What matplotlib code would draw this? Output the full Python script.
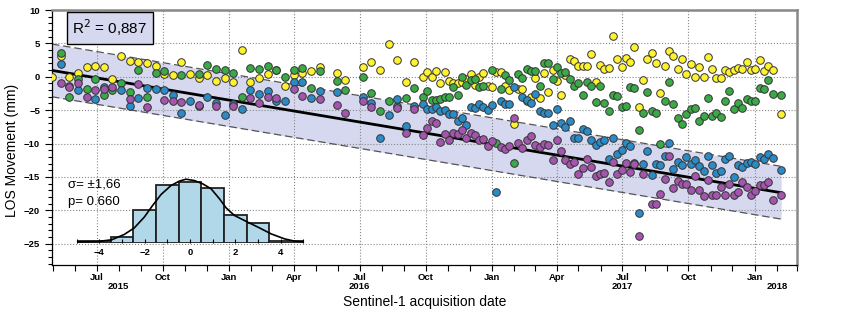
import numpy as np
import pandas as pd
import matplotlib
matplotlib.use('Agg')
import matplotlib.pyplot as plt
import matplotlib.dates as mdates
from matplotlib.ticker import MultipleLocator

plt.rcParams['font.family'] = ['Liberation Sans', 'DejaVu Sans']

# first acquisition (day 0)
t0 = pd.Timestamp('2015-04-30')

# ---- LOS time series (day offset from t0, mm) ----
yellow_days = [0, 12, 24, 36, 48, 60, 72, 84, 96, 108, 120, 132, 144, 156, 168, 180, 192, 204, 216, 228,
               240, 252, 264, 276, 288, 300, 312, 324, 336, 348, 360, 372, 396, 408, 432, 444, 456, 468, 480,
               492, 504, 516, 522, 528, 534, 540, 546, 552, 558, 564, 570, 576, 582, 588, 594, 600, 606, 612,
               618, 624, 630, 636, 642, 648, 654, 660, 666, 672, 678, 684, 690, 696, 702, 708, 714, 720, 726,
               732, 738, 744, 750, 756, 762, 768, 774, 780, 786, 792, 798, 804, 810, 816, 822, 828, 834, 840,
               846, 852, 858, 864, 870, 876, 882, 888, 894, 900, 906, 912, 918, 924, 930, 936, 942, 948, 954,
               960, 966, 972, 978, 984, 990, 996, 1002, 1014]
yellow_mm = [0.0, 3.07, 0.0, 0.57, 1.4, 1.57, 1.4, -0.27, 3.07, 2.37, 2.28, 2.0, 1.57, 0.48, 0.27, 2.2, 0.37,
             -0.17, 0.27, -0.62, -0.12, -0.72, 3.97, -0.72, -0.22, 0.48, 0.97, -1.42, 0.27, 0.6, 0.9, 1.5, 0.6,
             -0.5, 1.4, 2.25, 1.0, 4.85, 2.5, -0.75, 2.2, 0.0, 0.65, -0.1, 0.85, -1.0, 0.65, -0.6, -0.9, -0.9,
             -0.75, -0.4, 0.35, -1.25, -0.1, 0.6, -1.4, -1.6, 0.75, 0.75, -1.4, -2.0, -7.15, -1.9, -1.85, -3.6,
             -3.1, -0.25, -3.25, 0.6, -2.25, 1.0, -0.65, -2.8, 0.25, 2.6, 2.4, 1.6, 1.6, 1.6, 3.4, -0.75, 1.75,
             1.1, 1.35, 6.15, 2.6, 1.5, 2.85, 2.15, 4.4, -4.5, -0.5, 2.6, 3.6, 2.1, -2.5, 1.6, 3.9, 3.1, 1.1,
             2.7, 0.35, 1.9, 0.0, 1.4, -0.1, 3.0, 1.15, -0.15, -0.15, 1.0, 0.75, 1.0, 1.25, 1.1, 2.15, 1.0,
             1.1, 2.5, 0.85, 1.6, 1.0, -5.6]

green_days = [12, 24, 36, 48, 60, 72, 84, 96, 108, 120, 132, 144, 156, 180, 204, 216, 228, 240, 252, 264, 276,
              288, 300, 312, 324, 336, 348, 360, 372, 396, 408, 432, 444, 456, 468, 480, 492, 504, 516, 522,
              528, 534, 540, 546, 552, 558, 564, 570, 576, 582, 588, 594, 600, 612, 618, 624, 630, 636, 642,
              648, 654, 660, 666, 672, 678, 684, 690, 696, 702, 708, 714, 720, 726, 732, 738, 744, 750, 756,
              762, 768, 774, 780, 786, 792, 798, 804, 810, 816, 822, 828, 834, 840, 846, 852, 858, 864, 870,
              876, 882, 888, 894, 900, 906, 912, 918, 924, 930, 936, 942, 948, 954, 960, 966, 972, 978, 984,
              990, 996, 1002, 1014]
green_mm = [3.6, -3.0, -0.4, -1.87, -0.3, -2.7, -2.0, -0.93, -2.27, 1.0, -3.03, 0.57, 0.87, 0.23, 0.37, 1.77,
            1.23, 0.97, 0.6, -3.03, 1.33, 1.23, 1.57, 1.07, -0.03, 1.07, 1.25, -1.65, 0.9, -0.6, -2.0, -0.1,
            -2.5, -5.15, -3.6, -4.35, -3.25, -1.75, -3.0, -2.1, -3.5, -3.5, -3.35, -3.1, -3.0, -1.5, -2.8,
            -0.1, -1.25, -0.5, -0.4, -1.6, -1.4, 1.0, -9.9, -1.85, 0.25, -0.5, -12.85, 0.35, -0.25, 1.1, 0.9,
            0.9, -1.4, 2.0, 2.0, -0.4, 1.4, 0.5, 0.75, -0.35, -1.4, -0.9, -2.75, -0.85, -1.4, -3.75, -1.4,
            -3.9, -5.1, -2.75, -2.85, -4.6, -4.4, -1.6, -1.75, -8.0, -5.5, -2.25, -5.1, -5.5, -10.1, -3.6,
            -0.75, -4.1, -6.25, -7.1, -5.6, -4.9, -4.75, -6.65, -5.9, -3.25, -5.9, -5.4, -6.0, -3.6, -2.15,
            -4.9, -3.9, -4.65, -3.4, -3.6, -3.65, -1.75, -1.85, -0.5, -2.6, -2.75]

blue_days = [12, 24, 36, 60, 72, 96, 108, 120, 132, 144, 156, 168, 180, 192, 204, 216, 228, 240, 252, 264,
             276, 288, 300, 312, 324, 336, 348, 360, 372, 396, 432, 444, 456, 468, 480, 492, 504, 516, 522,
             528, 534, 540, 546, 552, 558, 564, 570, 576, 582, 588, 594, 600, 606, 612, 618, 624, 630, 636,
             642, 654, 660, 666, 672, 678, 684, 690, 696, 702, 708, 714, 720, 726, 732, 738, 744, 750, 756,
             762, 768, 774, 780, 786, 792, 798, 804, 810, 816, 822, 828, 834, 840, 846, 852, 858, 864, 870,
             876, 882, 888, 894, 900, 906, 912, 918, 924, 930, 936, 942, 948, 954, 960, 966, 972, 978, 984,
             990, 996, 1002, 1014]
blue_mm = [1.97, -1.42, -1.92, -3.27, -1.6, -2.0, -4.42, -3.17, -1.67, -1.77, -1.92, -2.67, -5.37, -3.7,
           -4.42, -3.03, -3.9, -5.77, -4.1, -4.77, -1.92, -2.53, -2.17, -3.7, -3.6, -0.75, -0.75, -3.25, -2.15,
           -2.35, -3.1, -4.0, -9.1, -5.75, -3.4, -7.4, -4.4, -4.15, -4.9, -4.9, -4.5, -5.1, -5.0, -5.6, -5.6,
           -6.65, -6.25, -7.25, -4.6, -4.65, -4.15, -4.6, -5.0, -4.25, -17.3, -3.6, -4.1, -4.1, -1.6, -3.1,
           -3.5, -4.0, -2.6, -5.1, -5.5, -5.5, -7.25, -4.9, -7.0, -7.6, -6.6, -9.1, -9.1, -7.9, -8.1, -9.5,
           -10.25, -9.75, -9.4, -12.25, -9.1, -11.6, -11.0, -9.9, -10.4, -12.9, -20.4, -13.1, -11.1, -14.75,
           -13.1, -13.25, -11.9, -9.9, -13.75, -12.75, -13.25, -12.0, -13.0, -12.5, -13.4, -14.1, -11.9,
           -13.25, -14.4, -14.15, -12.25, -11.85, -15.0, -13.25, -13.5, -12.85, -12.75, -13.0, -12.0,
           -12.25, -11.6, -12.1, -13.9]

purple_days = [12, 24, 36, 48, 60, 72, 84, 108, 120, 132, 156, 168, 180, 204, 228, 252, 276, 288, 300, 312,
               336, 348, 372, 396, 408, 432, 444, 480, 492, 504, 516, 522, 528, 534, 540, 546, 552, 558, 564,
               570, 576, 582, 588, 594, 600, 606, 612, 624, 630, 636, 642, 648, 654, 660, 666, 672, 678, 684,
               690, 696, 702, 708, 714, 720, 726, 732, 738, 744, 750, 756, 762, 768, 774, 780, 786, 792, 798,
               804, 810, 816, 822, 834, 840, 846, 852, 858, 864, 870, 876, 882, 888, 894, 900, 906, 912, 918,
               924, 930, 936, 942, 948, 954, 960, 966, 972, 978, 984, 990, 996, 1002, 1014]
purple_mm = [-0.93, -1.5, -1.0, -3.0, -2.0, -1.9, -1.6, -3.4, -1.1, -4.5, -3.5, -3.6, -3.77, -4.3, -4.4, -4.4,
             -3.2, -4.0, -3.0, -3.2, -1.9, -2.85, -3.4, -4.25, -5.4, -3.6, -4.5, -4.75, -8.5, -4.9, -8.75,
             -7.75, -6.65, -6.9, -9.75, -8.6, -9.5, -8.5, -8.6, -8.0, -9.1, -8.4, -8.75, -9.5, -9.25, -10.4,
             -9.6, -10.5, -10.75, -10.4, -6.25, -9.9, -10.6, -9.4, -8.85, -10.25, -10.5, -10.0, -10.25,
             -12.5, -9.5, -11.1, -12.4, -13.1, -12.75, -14.6, -13.6, -12.25, -13.5, -14.9, -14.6, -14.4,
             -15.75, -12.75, -14.6, -13.9, -12.9, -14.25, -13.1, -23.9, -14.6, -19.0, -19.0, -17.5, -15.25,
             -11.9, -16.65, -15.6, -16.1, -16.0, -16.9, -14.85, -17.0, -17.9, -15.5, -17.75, -17.75, -16.5,
             -17.75, -16.1, -17.75, -17.25, -15.75, -16.5, -17.75, -17.1, -16.25, -16.25, -15.75, -18.4,
             -17.75]

series = [
    (yellow_days, yellow_mm, '#fff22e'),
    (green_days, green_mm, '#3ba947'),
    (blue_days, blue_mm, '#2b8bc6'),
    (purple_days, purple_mm, '#a456ae'),
]

# linear trend and its envelope
fit_start_mm = 0.95      # mm at t0
fit_rate = -6.60         # mm / yr
band_half = 3.95         # mm
fit_end_day = 1014
r2_text = 'R$^2$ = 0,887'

# residual histogram (mm) and fitted density
hist_edges = [-5, -3.5, -2.5, -1.5, -0.5, 0.5, 1.5, 2.5, 3.5, 5]
hist_heights = [0.9, 2.8, 17.0, 30.0, 31.4, 28.4, 14.6, 10.0, 0.7]
curve_x = [-4.97, -4.08, -3.46, -2.9, -2.46, -2.02, -1.65, -1.28, -0.84, -0.47, -0.18, 0.19, 0.56, 0.93,
           1.3, 1.59, 1.96, 2.55, 3.07, 3.58, 4.17, 4.62, 5.0]
curve_y = [0.35, 0.5, 1.4, 4.2, 7.6, 13.2, 19.3, 25.0, 29.7, 32.0, 33.0, 32.3, 30.6, 28.0, 22.8, 18.1,
           14.1, 10.6, 7.6, 4.5, 1.9, 0.7, 0.35]
sigma_text = 'σ= ±1,66'
p_text = 'p= 0.660'

fig = plt.figure(figsize=(8.59, 3.20), dpi=100)
ax = fig.add_axes([52 / 859, 55 / 320, 745 / 859, 255 / 320])

# trend band + line
fd = np.array([0, fit_end_day])
fdates = t0 + pd.to_timedelta(fd, unit='D')
fy = fit_start_mm + fit_rate * fd / 365.25
ax.fill_between(fdates, fy - band_half, fy + band_half, color='#d5d8ef', lw=0, zorder=0.3)
ax.plot(fdates, fy + band_half, color='#555555', lw=0.9, ls=(0, (6, 3)), zorder=0.6)
ax.plot(fdates, fy - band_half, color='#555555', lw=0.9, ls=(0, (6, 3)), zorder=0.6)
ax.plot(fdates, fy, color='black', lw=2.0, zorder=2)

for d, v, c in series:
    dts = t0 + pd.to_timedelta(np.array(d), unit='D')
    ax.scatter(dts, v, s=30, color=c, edgecolors='#333333', linewidths=0.7, zorder=3)

ax.set_xlim(t0, t0 + pd.Timedelta(days=1036))
ax.set_ylim(-28.2, 10)

ax.xaxis.set_major_locator(mdates.MonthLocator(bymonth=[1, 4, 7, 10]))
ax.xaxis.set_minor_locator(mdates.MonthLocator())
ax.xaxis.set_major_formatter(mdates.DateFormatter('%b'))
ax.yaxis.set_major_locator(MultipleLocator(5))
ax.yaxis.set_minor_locator(MultipleLocator(1))
ax.yaxis.set_major_formatter(plt.FuncFormatter(lambda v, p: f'{v:.0f}'.replace('-', '\u2212')))

ax.tick_params(axis='both', which='both', direction='out', labelsize=6.8, width=0.8)
ax.tick_params(axis='y', which='major', length=5)
ax.tick_params(axis='y', which='minor', length=3)
ax.tick_params(axis='x', which='both', length=4, pad=2)
for lab in ax.get_xticklabels() + ax.get_yticklabels():
    lab.set_fontweight('bold')

ax.grid(True, which='major', ls=':', color='#888888', lw=0.8)
ax.set_axisbelow(True)

for s in ['top', 'right']:
    ax.spines[s].set_color('#888888')
    ax.spines[s].set_linewidth(1.8)
for s in ['left', 'bottom']:
    ax.spines[s].set_linewidth(0.9)

# year labels under the month labels
for yr, dt in [('2015', '2015-07-31'), ('2016', '2016-07-01'), ('2017', '2017-07-01'), ('2018', '2018-02-01')]:
    ax.text(pd.Timestamp(dt), -0.068, yr, transform=ax.get_xaxis_transform(), ha='center', va='top',
            fontsize=6.8, fontweight='bold')

ax.set_xlabel('Sentinel-1 acquisition date', fontsize=10, labelpad=9)
ax.set_ylabel('LOS Movement (mm)', fontsize=10)
ax.yaxis.set_label_coords(-0.044, 0.45)

ax.text(0.027, 0.929, r2_text, transform=ax.transAxes, fontsize=11, ha='left', va='center',
        bbox=dict(boxstyle='square,pad=0.35', fc='#d5d8ef', ec='black', lw=1))

ax.text(0.0215, 0.314, sigma_text, transform=ax.transAxes, fontsize=9.5, ha='left', va='center')
ax.text(0.0215, 0.248, p_text, transform=ax.transAxes, fontsize=9.5, ha='left', va='center')

# inset histogram of residuals
axi = ax.inset_axes([(76.7 - 52) / 745, (265 - 242.5) / 255, 226.6 / 745, 70 / 255])
axi.patch.set_alpha(0)
widths = np.diff(hist_edges)
axi.bar(hist_edges[:-1], hist_heights, width=widths, align='edge', color='#b1d8e8',
        edgecolor='#222222', lw=1.3)
axi.plot(curve_x, curve_y, color='black', lw=1.2)
axi.set_xlim(-5, 5)
axi.set_ylim(0, 36.5)
for s in axi.spines.values():
    s.set_visible(False)
axi.set_yticks([])
axi.xaxis.set_major_locator(MultipleLocator(2))
axi.xaxis.set_minor_locator(MultipleLocator(1))
axi.xaxis.set_major_formatter(plt.FuncFormatter(lambda v, p: f'{v:.0f}'.replace('-', '\u2212')))
axi.tick_params(axis='x', which='both', direction='in', length=3, width=0.8, labelsize=6.8, pad=4)
for lab in axi.get_xticklabels():
    lab.set_fontweight('bold')

fig.savefig('out.png', dpi=100)
